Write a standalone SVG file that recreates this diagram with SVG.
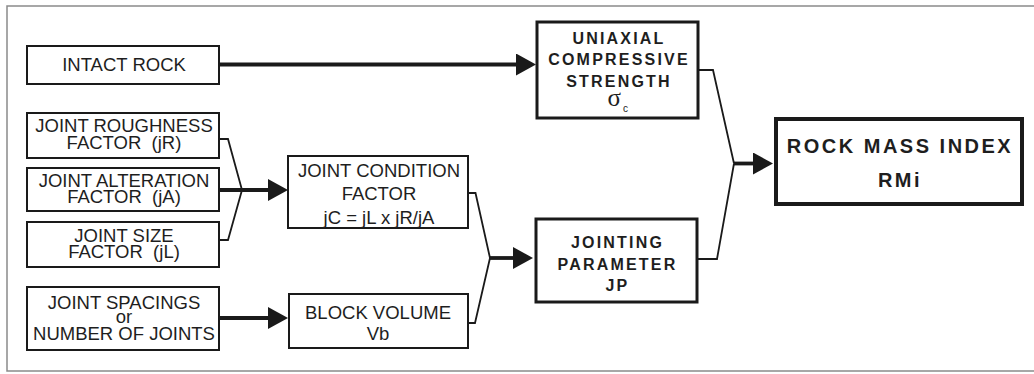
<svg xmlns="http://www.w3.org/2000/svg" width="1034" height="374" viewBox="0 0 1034 374">
<style>
.bg{fill:#ffffff}
.frame{fill:none;stroke:#8a8a8a;stroke-width:1.5}
.box{fill:#ffffff;stroke:#1a1a1a;stroke-width:2}
.boxb{fill:#ffffff;stroke:#1a1a1a;stroke-width:3}
.boxx{fill:#ffffff;stroke:#1a1a1a;stroke-width:4}
.t{font-family:"Liberation Sans",Arial,sans-serif;font-size:18.5px;fill:#1e1e1e;text-anchor:middle;white-space:pre}
.tb{font-family:"Liberation Sans",Arial,sans-serif;font-size:16px;font-weight:bold;letter-spacing:2.2px;fill:#1e1e1e;text-anchor:middle}
.tx{font-family:"Liberation Sans",Arial,sans-serif;font-size:20px;font-weight:bold;letter-spacing:2.5px;fill:#1e1e1e;text-anchor:middle}
.sym{font-family:"Liberation Serif","DejaVu Serif",serif;font-size:25px;fill:#1e1e1e}
.sub{font-family:"Liberation Sans",Arial,sans-serif;font-size:10px;fill:#1e1e1e}
.thin{fill:none;stroke:#1a1a1a;stroke-width:1.8;stroke-linejoin:miter}
.thick{fill:none;stroke:#1a1a1a;stroke-width:3.8}
</style>
<defs>
<marker id="ah" viewBox="0 0 20 22" refX="0" refY="11" markerWidth="20" markerHeight="22" markerUnits="userSpaceOnUse" orient="auto">
<path d="M0,0 L20,11 L0,22 Z" fill="#1a1a1a"/>
</marker>
</defs>
<rect class="bg" x="0" y="0" width="1034" height="374"/>
<rect class="frame" x="7" y="6" width="1040" height="365"/>

<g id="connectors">
<path class="thick" d="M219,64.5 H516" marker-end="url(#ah)"/>
<path class="thin" d="M219,139 H228 L242,190"/>
<path class="thin" d="M219,240 H228 L242,190"/>
<path class="thick" d="M219,190 H268" marker-end="url(#ah)"/>
<path class="thick" d="M219,318 H268" marker-end="url(#ah)"/>
<path class="thin" d="M468,193 H475.5 L490,258"/>
<path class="thin" d="M468,323 H475 L490,258"/>
<path class="thick" d="M490,258 H513" marker-end="url(#ah)"/>
<path class="thin" d="M699,70 H713 L734,163.5"/>
<path class="thin" d="M697,259 H717 L734,163.5"/>
<path class="thick" d="M734,163.5 H753" marker-end="url(#ah)"/>
</g>

<g id="intact-rock">
<rect class="box" x="27" y="46" width="192" height="38"/>
<text class="t" x="124" y="71">INTACT ROCK</text>
</g>

<g id="joint-roughness">
<rect class="box" x="27" y="113" width="192" height="45"/>
<text class="t" x="124" y="132">JOINT ROUGHNESS</text>
<text class="t" x="124" y="148.5" xml:space="preserve">FACTOR  (jR)</text>
</g>

<g id="joint-alteration">
<rect class="box" x="27" y="168" width="192" height="43"/>
<text class="t" x="124" y="186.5">JOINT ALTERATION</text>
<text class="t" x="124" y="202.5" xml:space="preserve">FACTOR  (jA)</text>
</g>

<g id="joint-size">
<rect class="box" x="27" y="222" width="192" height="45"/>
<text class="t" x="124" y="241.5">JOINT SIZE</text>
<text class="t" x="124" y="258" xml:space="preserve">FACTOR  (jL)</text>
</g>

<g id="joint-spacings">
<rect class="box" x="27" y="287" width="192" height="63"/>
<text class="t" x="124" y="309">JOINT SPACINGS</text>
<text class="t" x="124" y="322.5">or</text>
<text class="t" x="124" y="340">NUMBER OF JOINTS</text>
</g>

<g id="joint-condition">
<rect class="box" x="288" y="156" width="180" height="72"/>
<text class="t" x="379" y="177">JOINT CONDITION</text>
<text class="t" x="379" y="200">FACTOR</text>
<text class="t" x="379" y="224">jC = jL x jR/jA</text>
</g>

<g id="block-volume">
<rect class="box" x="289" y="294" width="179" height="54"/>
<text class="t" x="378" y="319">BLOCK VOLUME</text>
<text class="t" x="378" y="339.5">Vb</text>
</g>

<g id="ucs">
<rect class="boxb" x="537" y="22" width="161" height="96"/>
<text class="tb" x="619" y="43.5">UNIAXIAL</text>
<text class="tb" x="619" y="65">COMPRESSIVE</text>
<text class="tb" x="619" y="86.5">STRENGTH</text>
<text class="sym" x="607.5" y="106">σ</text>
<text class="sub" x="623" y="111.5">c</text>
</g>

<g id="jointing-parameter">
<rect class="boxb" x="536" y="219" width="161" height="83"/>
<text class="tb" x="617.5" y="248">JOINTING</text>
<text class="tb" x="617.5" y="269.5">PARAMETER</text>
<text class="tb" x="617.5" y="291">JP</text>
</g>

<g id="rock-mass-index">
<rect class="boxx" x="776" y="119" width="246" height="85"/>
<text class="tx" x="900" y="153">ROCK MASS INDEX</text>
<text class="tx" x="900" y="187">RMi</text>
</g>
</svg>
